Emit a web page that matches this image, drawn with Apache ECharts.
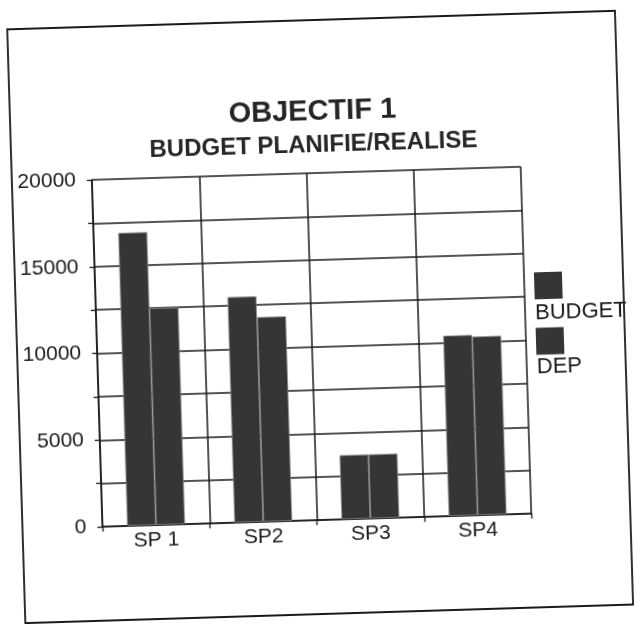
<!DOCTYPE html>
<html><head><meta charset="utf-8">
<script src="https://cdn.jsdelivr.net/npm/echarts@6/dist/echarts.min.js"></script>
<style>html,body{margin:0;padding:0;background:#fff;overflow:hidden}#c{width:637px;height:624px;transform:rotate(-1.75deg);transform-origin:50% 50%}</style>
</head><body><div id="c"></div>
<script>
const categories = ['SP 1', 'SP2', 'SP3', 'SP4'];
const budget = [16900, 13000, 3700, 10400];
const dep = [12500, 11800, 3700, 10300];
const seriesNames = ['BUDGET', 'DEP'];

const chart = echarts.init(document.getElementById('c'));
const font = '"Liberation Sans", Arial, sans-serif';
const ink = '#1a1a1a';
const barStyle = { color: '#353535', borderColor: '#8a8a8a', borderWidth: 0.8 };
chart.setOption({
  backgroundColor: '#fff',
  animation: false,
  title: [
    { text: 'OBJECTIF 1', left: 'center', top: 92, textStyle: { fontFamily: font, fontSize: 29, fontWeight: 'bold', color: '#262626' } },
    { text: 'BUDGET PLANIFIE/REALISE', left: 'center', top: 128, textStyle: { fontFamily: font, fontSize: 24, fontWeight: 'bold', color: '#262626' } }
  ],
  legend: [
    {
      orient: 'vertical', left: 530, top: 274, selectedMode: false,
      itemWidth: 28, itemHeight: 27, itemGap: 28.5, icon: 'rect',
      data: seriesNames, formatter: () => '',
      itemStyle: { borderWidth: 0 },
      textStyle: { fontSize: 1 }
    },
    {
      orient: 'vertical', left: 525, top: 302, selectedMode: false,
      itemWidth: 0, itemHeight: 26, itemGap: 29.5, icon: 'none',
      data: seriesNames,
      textStyle: { fontFamily: font, fontSize: 22, color: ink }
    }
  ],
  graphic: [{ type: 'rect', shape: { x: 16, y: 20, width: 608, height: 594 }, style: { fill: 'none', stroke: ink, lineWidth: 1.8 } }],
  grid: { left: 96, right: 112, top: 173, bottom: 104 },
  xAxis: {
    type: 'category', data: categories,
    axisLine: { lineStyle: { color: ink, width: 1.6 } },
    axisTick: { show: true, length: 5, lineStyle: { color: ink, width: 1.3 } },
    splitLine: { show: true, lineStyle: { color: ink, width: 1.5 } },
    axisLabel: { fontFamily: font, fontSize: 21, color: ink, margin: 5 }
  },
  yAxis: {
    type: 'value', min: 0, max: 20000, interval: 2500,
    axisLine: { show: true, lineStyle: { color: ink, width: 1.6 } },
    axisTick: { show: true, length: 5, lineStyle: { color: ink, width: 1.3 } },
    splitLine: { lineStyle: { color: ink, width: 1.5 } },
    axisLabel: { fontFamily: font, fontSize: 21, color: ink, margin: 16,
      formatter: v => (v % 5000 === 0 ? String(v) : '') }
  },
  series: [
    { name: seriesNames[0], type: 'bar', data: budget, barGap: '0%', barCategoryGap: '46%', itemStyle: barStyle },
    { name: seriesNames[1], type: 'bar', data: dep, itemStyle: barStyle }
  ]
});
</script></body></html>
